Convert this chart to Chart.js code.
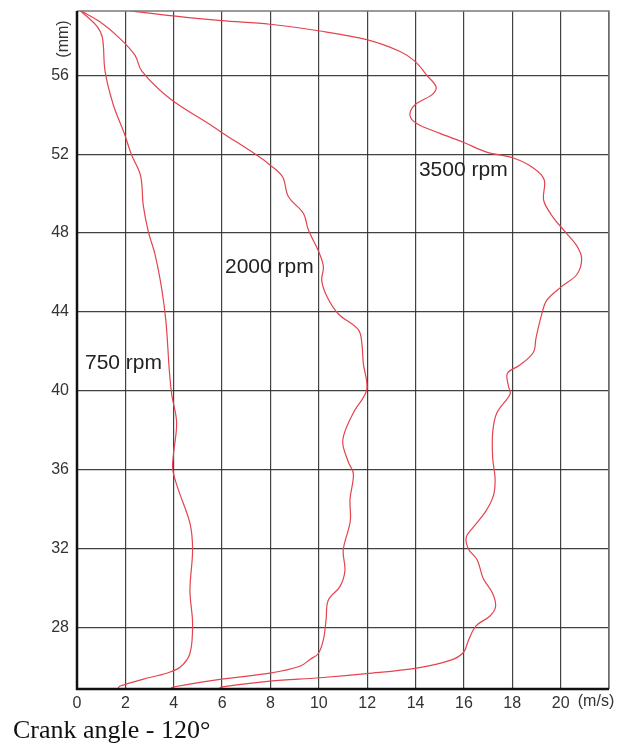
<!DOCTYPE html>
<html>
<head>
<meta charset="utf-8">
<title>Crank angle - 120°</title>
<script src="https://cdn.jsdelivr.net/npm/chart.js@4/dist/chart.umd.min.js"></script>
<style>
  html, body { margin: 0; padding: 0; background: #fff; }
  #wrap { position: relative; width: 623px; height: 745px; }
</style>
</head>
<body>
<div id="wrap"><canvas id="profile"></canvas></div>
<script>
// velocity (m/s) against height (mm), one pair of arrays per engine speed
const rpm750Speed  = [0.1, 0.81, 1.05, 1.16, 1.5, 1.94, 2.26, 2.63, 2.74, 2.95, 3.23, 3.5, 3.68, 3.82, 3.92, 4.12, 3.98, 3.96, 4.19, 4.67, 4.78, 4.67, 4.78, 4.67, 4.26, 3.7, 2.74, 1.78, 1.7];
const rpm750Height = [59.3, 58.5, 57.9, 56.2, 54.5, 53.1, 51.95, 50.9, 49.4, 48.07, 46.9, 45.2, 43.5, 41.0, 39.8, 38.4, 36.7, 36.0, 35.0, 33.3, 31.95, 29.9, 28.2, 26.7, 26.0, 25.7, 25.4, 25.05, 24.95];

const rpm2000Speed  = [0.1, 0.95, 1.78, 2.4, 2.68, 3.85, 5.5, 5.98, 7.43, 7.98, 8.5, 8.74, 9.36, 9.57, 9.98, 10.19, 10.12, 10.33, 10.81, 11.64, 11.78, 11.84, 11.98, 11.43, 10.99, 11.22, 11.43, 11.29, 11.3, 11.01, 11.08, 10.88, 10.39, 10.3, 10.19, 9.98, 9.64, 9.22, 7.98, 5.98, 3.98, 3.9];
const rpm2000Height = [59.3, 58.7, 57.85, 57.0, 56.2, 54.8, 53.5, 53.1, 51.95, 51.45, 50.85, 49.85, 49.0, 48.15, 47.1, 46.3, 45.6, 44.8, 43.9, 43.1, 42.4, 41.4, 40.05, 38.9, 37.5, 36.4, 35.8, 34.5, 33.4, 31.95, 30.9, 30.1, 29.4, 28.4, 27.4, 26.7, 26.4, 26.05, 25.7, 25.4, 25.0, 24.95];

const rpm3500Speed  = [2.19, 3.98, 5.98, 7.98, 9.98, 11.98, 13.36, 13.98, 14.46, 14.85, 14.67, 13.98, 13.77, 14.05, 15.01, 15.98, 16.94, 18.04, 18.87, 19.32, 19.3, 19.7, 20.2, 20.67, 20.87, 20.67, 20.05, 19.43, 19.2, 18.98, 18.87, 18.3, 17.8, 17.84, 17.91, 17.36, 17.19, 17.19, 17.29, 17.22, 16.9, 16.39, 16.1, 16.18, 16.55, 16.8, 17.18, 17.31, 17.08, 16.5, 16.2, 15.98, 15.43, 14.05, 11.98, 10.05, 7.98, 5.98, 5.9];
const rpm3500Height = [59.26, 59.0, 58.76, 58.58, 58.25, 57.8, 57.2, 56.7, 56.0, 55.4, 55.0, 54.5, 53.97, 53.55, 53.05, 52.6, 52.1, 51.8, 51.3, 50.7, 49.65, 48.78, 48.05, 47.35, 46.7, 45.9, 45.3, 44.6, 43.8, 42.67, 41.95, 41.3, 40.9, 40.25, 39.85, 38.88, 37.9, 36.6, 35.55, 34.7, 33.9, 33.1, 32.6, 32.0, 31.44, 30.5, 29.76, 29.08, 28.6, 28.1, 27.4, 26.75, 26.35, 25.96, 25.68, 25.47, 25.3, 25.0, 24.95];

// curve labels: text, left edge (m/s), vertical centre (mm)
const curveLabels = [
  { text: '750 rpm',  x: 0.33,  y: 41.42 },
  { text: '2000 rpm', x: 6.12,  y: 46.28 },
  { text: '3500 rpm', x: 14.14, y: 51.19 }
];

const speedTicks  = [0, 2, 4, 6, 8, 10, 12, 14, 16, 18, 20, 22];
const heightTicks = [28, 32, 36, 40, 44, 48, 52, 56];

const SANS = '"Liberation Sans", Arial, sans-serif';
const LINE_RED = '#e4434f';
const GRID = 'rgba(45,45,45,0.9)';

function toPoints(xs, ys) {
  return xs.map((x, i) => ({ x: x, y: ys[i] }));
}

function curve(xs, ys) {
  return {
    data: toPoints(xs, ys),
    showLine: true,
    borderColor: LINE_RED,
    borderWidth: 1.2,
    pointRadius: 0,
    tension: 0.35,
    fill: false
  };
}

// frame, axis titles, curve labels and caption
const decorations = {
  id: 'decorations',
  beforeDatasetsDraw(chart) {
    const { ctx, chartArea: a } = chart;
    ctx.save();
    ctx.strokeStyle = '#7a7a7a';
    ctx.lineWidth = 1.5;
    ctx.beginPath();
    ctx.moveTo(a.left, a.top);
    ctx.lineTo(a.right, a.top);
    ctx.lineTo(a.right, a.bottom);
    ctx.stroke();
    ctx.restore();
  },
  afterDatasetsDraw(chart) {
    const { ctx, chartArea: a, scales } = chart;
    const xs = scales.x, ys = scales.y;
    ctx.save();

    // main axes
    ctx.strokeStyle = '#111';
    ctx.lineWidth = 2.5;
    ctx.beginPath();
    ctx.moveTo(a.left, a.top);
    ctx.lineTo(a.left, a.bottom);
    ctx.lineTo(a.right, a.bottom);
    ctx.stroke();

    ctx.fillStyle = '#222';
    ctx.font = '21px ' + SANS;
    ctx.textBaseline = 'middle';
    ctx.textAlign = 'left';
    curveLabels.forEach(l => {
      ctx.fillText(l.text, xs.getPixelForValue(l.x), ys.getPixelForValue(l.y));
    });

    // unit labels
    ctx.font = '16px ' + SANS;
    ctx.fillStyle = '#333';
    ctx.textBaseline = 'top';
    ctx.textAlign = 'center';
    ctx.fillText('(m/s)', a.right - 13, a.bottom + 5);

    ctx.save();
    ctx.translate(a.left - 13, a.top + 28);
    ctx.rotate(-Math.PI / 2);
    ctx.textBaseline = 'middle';
    ctx.fillText('(mm)', 0, 0);
    ctx.restore();

    ctx.fillStyle = '#111';
    ctx.font = '26px "Liberation Serif", "Times New Roman", serif';
    ctx.textAlign = 'left';
    ctx.textBaseline = 'alphabetic';
    ctx.fillText('Crank angle - 120°', 13, 738);
    ctx.restore();
  }
};

new Chart(document.getElementById('profile').getContext('2d'), {
  type: 'scatter',
  data: {
    datasets: [
      curve(rpm750Speed, rpm750Height),
      curve(rpm2000Speed, rpm2000Height),
      curve(rpm3500Speed, rpm3500Height)
    ]
  },
  options: {
    responsive: true,
    maintainAspectRatio: false,
    animation: false,
    layout: { padding: { left: 0, top: 11, right: 14, bottom: 26 } },
    plugins: {
      legend: { display: false },
      tooltip: { enabled: false }
    },
    scales: {
      x: {
        type: 'linear',
        min: 0,
        max: 22,
        afterBuildTicks: s => { s.ticks = speedTicks.map(v => ({ value: v })); },
        afterFit: s => { s.height = 30; s.paddingLeft = 0; s.paddingRight = 0; },
        grid: { color: GRID, lineWidth: 1.2, drawTicks: false },
        border: { display: false },
        ticks: {
          padding: 5,
          color: '#333',
          font: { family: SANS, size: 16 },
          maxRotation: 0,
          autoSkip: false,
          callback: v => (v === 22 ? '' : v)
        }
      },
      y: {
        type: 'linear',
        min: 24.9,
        max: 59.25,
        afterBuildTicks: s => { s.ticks = heightTicks.map(v => ({ value: v })); },
        afterFit: s => { s.width = 77; s.paddingTop = 0; s.paddingBottom = 0; },
        grid: { color: GRID, lineWidth: 1.2, drawTicks: false },
        border: { display: false },
        ticks: {
          padding: 8,
          color: '#333',
          font: { family: SANS, size: 16 },
          autoSkip: false
        }
      }
    }
  },
  plugins: [decorations]
});
</script>
</body>
</html>
